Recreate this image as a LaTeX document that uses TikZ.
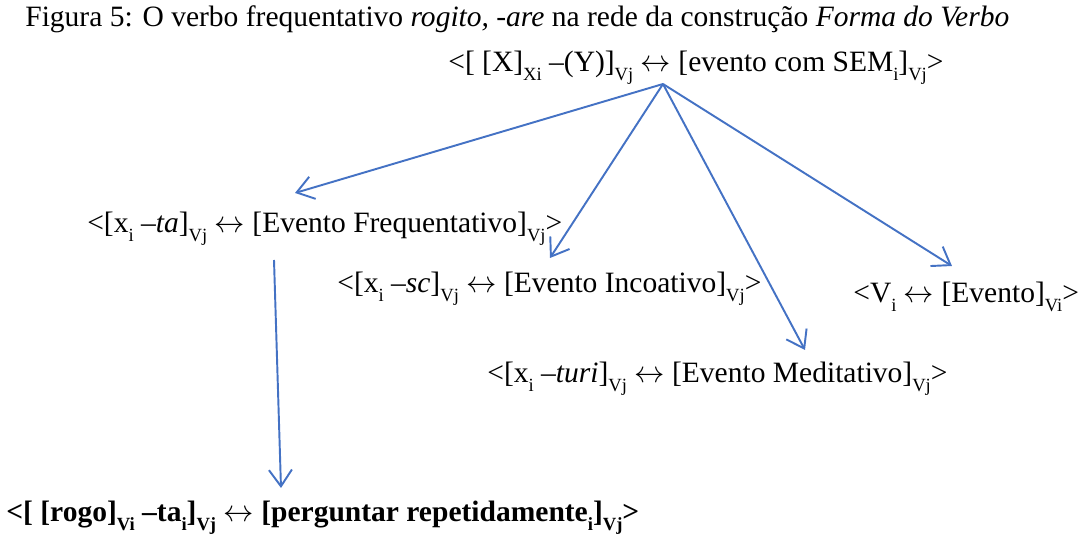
\documentclass[tikz,border=0pt]{standalone}
\usepackage{fontspec}
\setmainfont{Liberation Serif}
\usetikzlibrary{arrows.meta}

\definecolor{setaazul}{RGB}{68,114,196}
\newcommand{\sbs}[1]{\raisebox{-0.3em}{\fontsize{10.6pt}{10.6pt}\selectfont #1}}
\newcommand{\dupla}{\ensuremath{\leftrightarrow}}

\begin{document}
\begin{tikzpicture}[x=0.02cm, y=-0.02cm,
			cxn/.style={inner sep=0pt, anchor=base west, font=\fontsize{16.8pt}{20pt}\selectfont},
			titulo/.style={inner sep=0pt, anchor=base west, font=\fontsize{16.8pt}{20pt}\selectfont},
			arrow/.style={draw=setaazul, line width=1.1pt, -{Straight Barb[length=3.3mm, width=4.6mm]}},
		]
		\useasboundingbox (0,0) rectangle (1080,547);

		% --- Titulo ---
		\node (tit) [titulo] at (25, 27) {Figura 5: O verbo frequentativo \textit{rogito, -are} na rede da construção \textit{Forma do Verbo}};

		% --- Construcoes ---
		\node (topo) [cxn] at (448, 72)  {<[ [X]\sbs{Xi} –(Y)]\sbs{Vj} \dupla{} [evento com SEM\sbs{i}]\sbs{Vj}>};
		\node (freq) [cxn] at (87, 233)  {<[x\sbs{i} –\textit{ta}]\sbs{Vj} \dupla{} [Evento Frequentativo]\sbs{Vj}>};
		\node (inc)  [cxn] at (337, 293) {<[x\sbs{i} –\textit{sc}]\sbs{Vj} \dupla{} [Evento Incoativo]\sbs{Vj}>};
		\node (evt)  [cxn] at (853, 303) {<V\sbs{i} \dupla{} [Evento]\sbs{Vi}>};
		\node (med)  [cxn] at (487, 383) {<[x\sbs{i} –\textit{turi}]\sbs{Vj} \dupla{} [Evento Meditativo]\sbs{Vj}>};
		\node (rogo) [cxn, font=\fontsize{16.8pt}{20pt}\selectfont\bfseries] at (6, 522)
			{<[ [rogo]\sbs{Vi} –ta\sbs{i}]\sbs{Vj} \dupla{} [perguntar repetidamente\sbs{i}]\sbs{Vj}>};

		% --- Pontos de partida e chegada das setas ---
		\coordinate (hub)    at (663, 84);
		\coordinate (afreq)  at (295, 193);
		\coordinate (ainc)   at (550, 258);
		\coordinate (amed)   at (805, 350);
		\coordinate (aevt)   at (952, 266);
		\coordinate (dfreq)  at (274, 260);
		\coordinate (arogo)  at (281, 488);

		% --- Heranca a partir do esquema geral ---
		\draw [arrow] (hub) -- (afreq);
		\draw [arrow] (hub) -- (ainc);
		\draw [arrow] (hub) -- (amed);
		\draw [arrow] (hub) -- (aevt);

		% --- Instancia: rogito ---
		\draw [arrow] (dfreq) -- (arogo);

	\end{tikzpicture}
\end{document}
